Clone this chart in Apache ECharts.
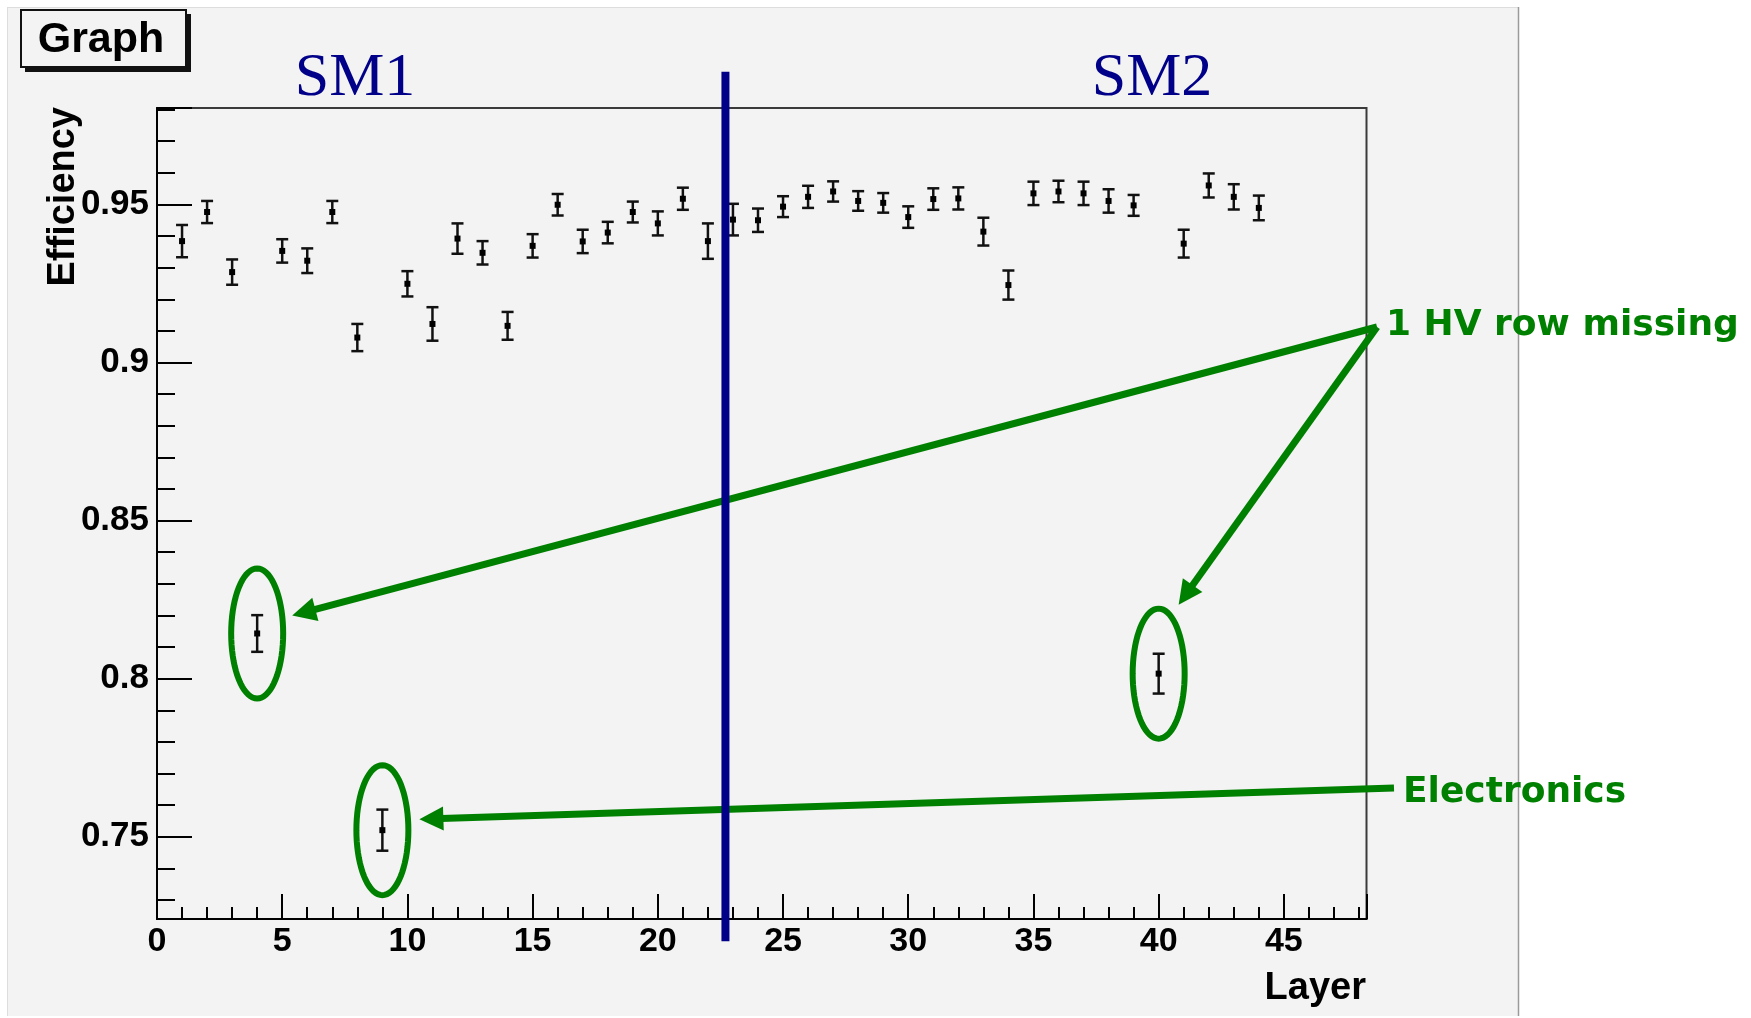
<!DOCTYPE html>
<html>
<head>
<meta charset="utf-8">
<script src="https://cdn.jsdelivr.net/npm/echarts@6/dist/echarts.min.js"></script>
<style>
html,body{margin:0;padding:0;background:#ffffff;}
#c{width:1751px;height:1018px;}
</style>
</head>
<body>
<div id="c"></div>
<script>
// ---- data ----
const layers = [1,2,3,4,5,6,7,8,9,10,11,12,13,14,15,16,17,18,19,20,21,22,23,24,25,26,27,28,29,30,31,32,33,34,35,36,37,38,39,40,41,42,43,44];
const efficiency = [0.9384,0.9476,0.9286,0.8143,0.9353,0.9322,0.9476,0.9079,0.7521,0.9249,
                    0.9122,0.9392,0.9347,0.9116,0.9369,0.9499,0.9383,0.9411,0.9476,0.9440,
                    0.9518,0.9384,0.9452,0.9450,0.9493,0.9524,0.9541,0.9511,0.9505,0.9460,
                    0.9517,0.9519,0.9414,0.9245,0.9535,0.9541,0.9535,0.9511,0.9497,0.8016,
                    0.9376,0.9560,0.9524,0.9489];
const errors = [0.0051,0.0035,0.0040,0.0058,0.0037,0.0039,0.0035,0.0043,0.0065,0.0040,
                0.0053,0.0048,0.0037,0.0044,0.0037,0.0034,0.0037,0.0034,0.0033,0.0038,
                0.0035,0.0056,0.0050,0.0037,0.0033,0.0035,0.0032,0.0031,0.0031,0.0034,
                0.0034,0.0035,0.0044,0.0046,0.0037,0.0034,0.0037,0.0037,0.0033,0.0063,
                0.0044,0.0038,0.0040,0.0039];
const xTickLabels = [0,5,10,15,20,25,30,35,40,45];
const yTickLabels = [0.75,0.8,0.85,0.9,0.95];
const xRange = [0, 48.3];
const yRange = [0.724, 0.9805];
const dividerLayer = 22.7;
const dividerSpan = [0.717, 0.992];
const sectionLabels = ['SM1', 'SM2'];
const hvMissingLayers = [4, 40];
const electronicsLayers = [9];
const annotationTexts = ['1 HV row missing', 'Electronics'];

// ---- styling ----
const GREEN = '#008000';
const NAVY = '#000088';
const annotationAnchors = [[1377, 327], [1394, 788]];
const tipOffsets = {4: [35, -18], 9: [37, -11], 40: [20, -69]};

const chart = echarts.init(document.getElementById('c'), null, {renderer: 'canvas'});

function isTick(v, list) {
  return list.some(t => Math.abs(t - v) < 1e-6);
}

const annData = hvMissingLayers.map(l => [l, efficiency[layers.indexOf(l)], 0])
  .concat(electronicsLayers.map(l => [l, efficiency[layers.indexOf(l)], 1]));

const option = {
  animation: false,
  backgroundColor: '#f3f3f3',
  grid: {
    left: 157, top: 108, width: 1209.5, height: 811,
    show: true, borderColor: '#3a3a3a', borderWidth: 2, backgroundColor: 'transparent',
    containLabel: false
  },
  xAxis: {
    type: 'value', min: xRange[0], max: xRange[1], interval: 5,
    axisLine: {show: true, onZero: false, lineStyle: {color: '#000', width: 2}},
    axisTick: {show: true, inside: true, length: 25, lineStyle: {color: '#000', width: 2}},
    minorTick: {show: true, splitNumber: 5, length: 12, lineStyle: {color: '#000', width: 2}},
    splitLine: {show: false},
    axisLabel: {
      margin: 6, color: '#000', fontFamily: 'Liberation Sans', fontWeight: 'bold', fontSize: 34,
      showMaxLabel: false,
      formatter: v => isTick(v, xTickLabels) ? String(v) : ''
    }
  },
  yAxis: {
    type: 'value', min: yRange[0], max: yRange[1], splitNumber: 5,
    axisLine: {show: true, onZero: false, lineStyle: {color: '#000', width: 2}},
    axisTick: {show: true, inside: true, length: 35, lineStyle: {color: '#000', width: 2}},
    minorTick: {show: true, splitNumber: 5, length: 18, lineStyle: {color: '#000', width: 2}},
    splitLine: {show: false},
    axisLabel: {
      margin: 8, color: '#000', fontFamily: 'Liberation Sans', fontWeight: 'bold', fontSize: 35,
      showMinLabel: false, showMaxLabel: false,
      formatter: v => isTick(v, yTickLabels) ? String(+v.toFixed(2)) : ''
    }
  },
  graphic: [
    // white margins around the ROOT canvas
    {type: 'rect', z: 1, shape: {x: 0, y: 0, width: 1751, height: 7}, style: {fill: '#ffffff'}},
    {type: 'rect', z: 1, shape: {x: 0, y: 0, width: 7, height: 1018}, style: {fill: '#ffffff'}},
    {type: 'rect', z: 1, shape: {x: 0, y: 1016, width: 1751, height: 2}, style: {fill: '#ffffff'}},
    {type: 'rect', z: 1, shape: {x: 1519, y: 0, width: 232, height: 1018}, style: {fill: '#ffffff'}},
    {type: 'line', z: 2, shape: {x1: 7, y1: 7.5, x2: 1519, y2: 7.5}, style: {stroke: '#dddddd', lineWidth: 1}},
    {type: 'line', z: 2, shape: {x1: 7.5, y1: 7, x2: 7.5, y2: 1016}, style: {stroke: '#dddddd', lineWidth: 1}},
    {type: 'line', z: 2, shape: {x1: 1518.5, y1: 7, x2: 1518.5, y2: 1016}, style: {stroke: '#9a9a9a', lineWidth: 1.5}},
    // "Graph" title box with shadow
    {type: 'rect', z: 3, shape: {x: 25, y: 14, width: 166, height: 58}, style: {fill: '#111'}},
    {type: 'rect', z: 4, shape: {x: 21, y: 10, width: 165, height: 57}, style: {fill: '#f3f3f3', stroke: '#111', lineWidth: 2}},
    {type: 'text', z: 5, x: 101, y: 40, style: {text: 'Graph', font: 'bold 43px "Liberation Sans"', fill: '#000', textAlign: 'center', textVerticalAlign: 'middle'}},
    // section labels
    {type: 'text', z: 5, x: 355, y: 79, style: {text: sectionLabels[0], font: '62px "Liberation Serif"', fill: NAVY, textAlign: 'center', textVerticalAlign: 'middle'}},
    {type: 'text', z: 5, x: 1152, y: 79, style: {text: sectionLabels[1], font: '62px "Liberation Serif"', fill: NAVY, textAlign: 'center', textVerticalAlign: 'middle'}},
    // axis titles
    {type: 'text', z: 6, x: 64, y: 107, rotation: Math.PI / 2, style: {text: 'Efficiency', font: 'bold 38px "Liberation Sans"', fill: '#000', textAlign: 'right', textVerticalAlign: 'middle'}},
    {type: 'text', z: 6, x: 1366, y: 989, style: {text: 'Layer', font: 'bold 38px "Liberation Sans"', fill: '#000', textAlign: 'right', textVerticalAlign: 'middle'}},
    // annotation texts
    {type: 'text', z: 20, x: 1386, y: 326, style: {text: annotationTexts[0], font: 'bold 36px "DejaVu Sans"', fill: GREEN, textAlign: 'left', textVerticalAlign: 'middle'}},
    {type: 'text', z: 20, x: 1403, y: 793, style: {text: annotationTexts[1], font: 'bold 36px "DejaVu Sans"', fill: GREEN, textAlign: 'left', textVerticalAlign: 'middle'}}
  ],
  series: [
    {
      type: 'custom',
      name: 'Efficiency',
      z: 3,
      clip: false,
      data: layers.map((l, i) => [l, efficiency[i], errors[i]]),
      encode: {x: 0, y: 1},
      renderItem: function (params, api) {
        const x = api.value(0), y = api.value(1), e = api.value(2);
        const p = api.coord([x, y]);
        const lo = api.coord([x, y - e]);
        const hi = api.coord([x, y + e]);
        const cap = 6;
        const st = {stroke: '#111', lineWidth: 2.5};
        return {
          type: 'group',
          children: [
            {type: 'line', shape: {x1: p[0], y1: lo[1], x2: p[0], y2: hi[1]}, style: st},
            {type: 'line', shape: {x1: p[0] - cap, y1: lo[1], x2: p[0] + cap, y2: lo[1]}, style: st},
            {type: 'line', shape: {x1: p[0] - cap, y1: hi[1], x2: p[0] + cap, y2: hi[1]}, style: st},
            {type: 'rect', shape: {x: p[0] - 3, y: p[1] - 3, width: 6, height: 6}, style: {fill: '#000'}}
          ]
        };
      }
    },
    {
      type: 'custom',
      name: 'annotations',
      z: 8,
      clip: false,
      silent: true,
      data: annData,
      encode: {x: 0, y: 1},
      renderItem: function (params, api) {
        const l = api.value(0), v = api.value(1), g = api.value(2);
        const c = api.coord([l, v]);
        const rx = 26, ry = 65;
        const pts = [];
        for (let k = 0; k < 72; k++) {
          const t = k / 72 * Math.PI * 2;
          pts.push([c[0] + rx * Math.cos(t), c[1] + ry * Math.sin(t)]);
        }
        const off = tipOffsets[l] || [rx + 10, 0];
        const tip = [c[0] + off[0], c[1] + off[1]];
        const a = annotationAnchors[g];
        const dx = tip[0] - a[0], dy = tip[1] - a[1];
        const len = Math.sqrt(dx * dx + dy * dy);
        const ux = dx / len, uy = dy / len;
        const hl = 24, hw = 12;
        const base = [tip[0] - ux * hl, tip[1] - uy * hl];
        return {
          type: 'group',
          children: [
            {type: 'polygon', shape: {points: pts}, style: {fill: 'none', stroke: GREEN, lineWidth: 6}},
            {type: 'line', shape: {x1: a[0], y1: a[1], x2: base[0] + ux * 2, y2: base[1] + uy * 2}, style: {stroke: GREEN, lineWidth: 7}},
            {type: 'polygon', shape: {points: [tip, [base[0] - uy * hw, base[1] + ux * hw], [base[0] + uy * hw, base[1] - ux * hw]]}, style: {fill: GREEN}}
          ]
        };
      }
    },
    {
      type: 'custom',
      name: 'divider',
      z: 10,
      clip: false,
      silent: true,
      data: [[dividerLayer, dividerSpan[0], dividerSpan[1]]],
      encode: {x: 0, y: 1},
      renderItem: function (params, api) {
        const x = api.value(0);
        const lo = api.coord([x, api.value(1)]);
        const hi = api.coord([x, api.value(2)]);
        return {type: 'line', shape: {x1: lo[0], y1: lo[1], x2: hi[0], y2: hi[1]}, style: {stroke: NAVY, lineWidth: 8}};
      }
    }
  ]
};

chart.setOption(option);
</script>
</body>
</html>
